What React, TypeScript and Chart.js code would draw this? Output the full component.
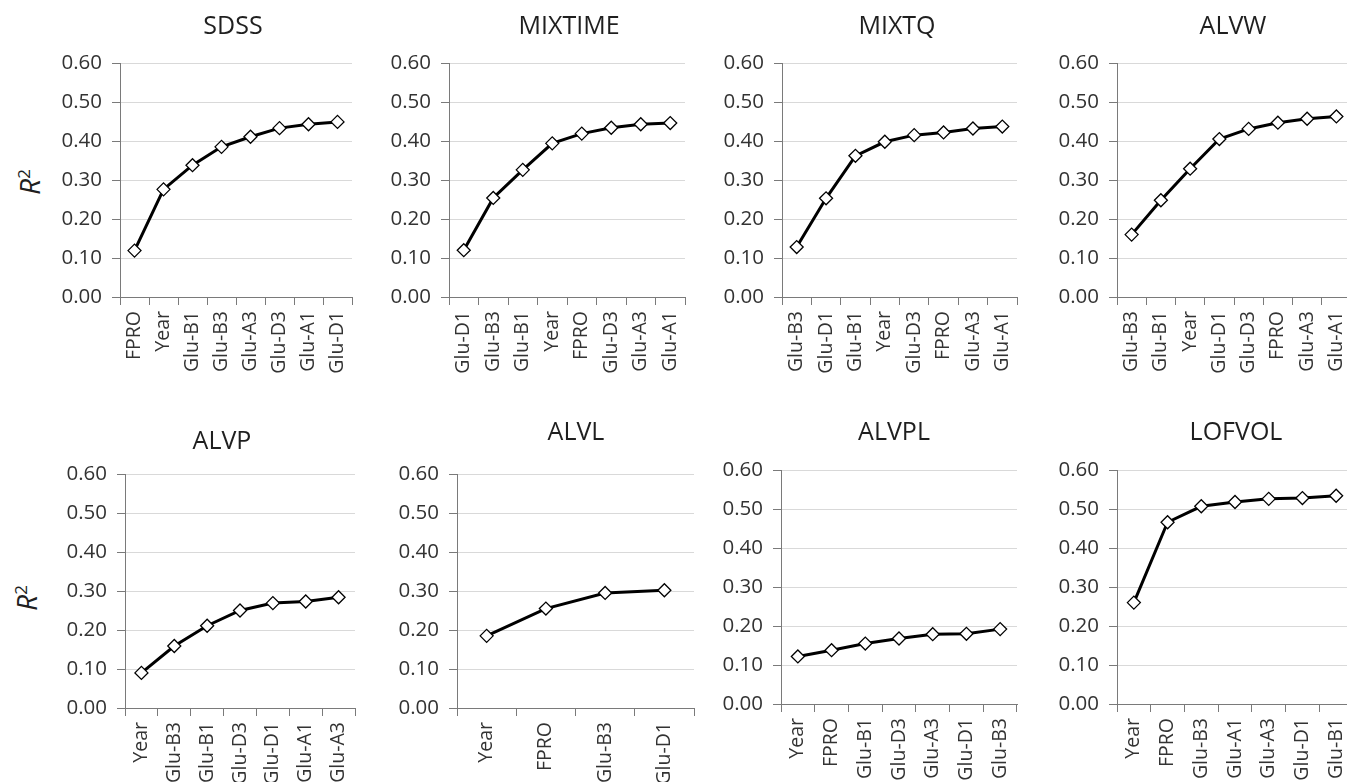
import React, { useEffect, useRef } from "react";
import { Chart, registerables } from "chart.js";

Chart.register(...registerables);

// ---------- data ----------
const sdssLabels = ["FPRO", "Year", "Glu-B1", "Glu-B3", "Glu-A3", "Glu-D3", "Glu-A1", "Glu-D1"];
const sdssValues = [0.119, 0.276, 0.338, 0.385, 0.411, 0.433, 0.443, 0.449];

const mixtimeLabels = ["Glu-D1", "Glu-B3", "Glu-B1", "Year", "FPRO", "Glu-D3", "Glu-A3", "Glu-A1"];
const mixtimeValues = [0.12, 0.254, 0.326, 0.394, 0.419, 0.434, 0.443, 0.446];

const mixtqLabels = ["Glu-B3", "Glu-D1", "Glu-B1", "Year", "Glu-D3", "FPRO", "Glu-A3", "Glu-A1"];
const mixtqValues = [0.128, 0.253, 0.362, 0.398, 0.415, 0.422, 0.432, 0.437];

const alvwLabels = ["Glu-B3", "Glu-B1", "Year", "Glu-D1", "Glu-D3", "FPRO", "Glu-A3", "Glu-A1"];
const alvwValues = [0.16, 0.248, 0.329, 0.405, 0.431, 0.447, 0.457, 0.463];

const alvpLabels = ["Year", "Glu-B3", "Glu-B1", "Glu-D3", "Glu-D1", "Glu-A1", "Glu-A3"];
const alvpValues = [0.09, 0.159, 0.211, 0.25, 0.269, 0.273, 0.284];

const alvlLabels = ["Year", "FPRO", "Glu-B3", "Glu-D1"];
const alvlValues = [0.185, 0.255, 0.295, 0.302];

const alvplLabels = ["Year", "FPRO", "Glu-B1", "Glu-D3", "Glu-A3", "Glu-D1", "Glu-B3"];
const alvplValues = [0.122, 0.138, 0.155, 0.168, 0.179, 0.18, 0.192];

const lofvolLabels = ["Year", "FPRO", "Glu-B3", "Glu-A1", "Glu-A3", "Glu-D1", "Glu-B1"];
const lofvolValues = [0.26, 0.466, 0.507, 0.518, 0.526, 0.528, 0.534];

const panelTitles = ["SDSS", "MIXTIME", "MIXTQ", "ALVW", "ALVP", "ALVL", "ALVPL", "LOFVOL"];
const yMin = 0;
const yMax = 0.6;
const yStep = 0.1;

// ---------- layout ----------
type Plot = { left: number; right: number; top: number; bottom: number; rowTop: number; tx: number; ty: number };
const plots: Plot[] = [
  { left: 120, right: 352, top: 63, bottom: 297, rowTop: 0, tx: 233, ty: 27 },
  { left: 449, right: 685, top: 63, bottom: 297, rowTop: 0, tx: 569, ty: 27 },
  { left: 782, right: 1017, top: 63, bottom: 297, rowTop: 0, tx: 897, ty: 27 },
  { left: 1117, right: 1351, top: 63, bottom: 297, rowTop: 0, tx: 1233, ty: 27 },
  { left: 125, right: 355, top: 474, bottom: 708, rowTop: 390, tx: 222, ty: 442 },
  { left: 457, right: 694, top: 474, bottom: 708, rowTop: 390, tx: 576, ty: 433 },
  { left: 781, right: 1017, top: 470, bottom: 704, rowTop: 390, tx: 894, ty: 433 },
  { left: 1117, right: 1353, top: 470, bottom: 704, rowTop: 390, tx: 1236, ty: 433 },
];

const FONT = "'Open Sans', 'Noto Sans', sans-serif";
const TXT = "#333333";
const TITLE_COLOR = "#1f1f1f";
const AXIS = "#7a7a7a";
const GRID = "#d9d9d9";

const panelTitlePlugin = {
  id: "panelTitle",
  afterDraw(chart: any, _args: any, opts: any) {
    const ctx = chart.ctx;
    ctx.save();
    ctx.font = `25px ${FONT}`;
    ctx.fillStyle = TITLE_COLOR;
    ctx.textAlign = "center";
    ctx.textBaseline = "middle";
    ctx.fillText(opts.text, opts.x, opts.y);
    ctx.restore();
  },
};

function Panel(props: { title: string; labels: string[]; values: number[]; plot: Plot }) {
  const { title, labels, values, plot } = props;
  const ref = useRef<HTMLCanvasElement>(null);
  const PADL = 100;
  const PADR = 20;
  const PADB = 100;
  const PADT = plot.top - plot.rowTop;
  const w = plot.right - plot.left + PADL + PADR;
  const h = plot.bottom - plot.top + PADT + PADB;
  const cLeft = plot.left - PADL;
  const cTop = plot.rowTop;

  useEffect(() => {
    const chart = new Chart(ref.current as HTMLCanvasElement, {
      type: "line",
      data: {
        labels,
        datasets: [
          {
            data: values,
            borderColor: "#000000",
            borderWidth: 3,
            tension: 0,
            pointStyle: "rectRot",
            pointRadius: 6.5,
            pointHoverRadius: 6.5,
            pointBackgroundColor: "#ffffff",
            pointBorderColor: "#000000",
            pointBorderWidth: 1.3,
            clip: false,
          } as any,
        ],
      },
      options: {
        animation: false,
        responsive: false,
        events: [],
        layout: { padding: { top: PADT, right: PADR, left: 0, bottom: 0 } },
        plugins: {
          legend: { display: false },
          tooltip: { enabled: false },
          title: { display: false },
          panelTitle: { text: title, x: plot.tx - cLeft, y: plot.ty - cTop },
        } as any,
        scales: {
          x: {
            type: "category",
            offset: true,
            grid: {
              display: true,
              offset: true,
              drawOnChartArea: false,
              drawTicks: true,
              tickLength: 8,
              color: AXIS,
              lineWidth: 1,
            },
            border: { display: true, color: AXIS, width: 1 },
            ticks: {
              autoSkip: false,
              minRotation: 90,
              maxRotation: 90,
              padding: 6,
              color: TXT,
              font: { family: FONT, size: 19.5 },
            },
            afterFit: (s: any) => {
              s.height = PADB;
            },
          },
          y: {
            min: yMin,
            max: yMax,
            ticks: {
              stepSize: yStep,
              padding: 10,
              color: TXT,
              font: { family: FONT, size: 20.5 },
              callback: (v: any) => Number(v).toFixed(2),
            },
            grid: {
              color: (c: any) => (c.tick && c.tick.value === 0 ? "rgba(0,0,0,0)" : GRID),
              tickColor: AXIS,
              tickLength: 8,
              lineWidth: 1,
            },
            border: { display: true, color: AXIS, width: 1 },
            afterFit: (s: any) => {
              s.width = PADL;
            },
          },
        } as any,
      },
      plugins: [panelTitlePlugin],
    });
    return () => chart.destroy();
  }, []);

  return (
    <canvas
      ref={ref}
      width={w}
      height={h}
      style={{ position: "absolute", left: cLeft, top: cTop, width: w, height: h }}
    />
  );
}

function RLabel(props: { x: number; y: number }) {
  return (
    <div
      style={{
        position: "absolute",
        left: props.x,
        top: props.y,
        transform: "translate(-50%, -50%) rotate(-90deg)",
        fontFamily: FONT,
        fontSize: 28,
        color: TITLE_COLOR,
        whiteSpace: "nowrap",
        lineHeight: 1,
      }}
    >
      <span style={{ fontStyle: "italic" }}>R</span>
      <sup style={{ fontSize: 17 }}>2</sup>
    </div>
  );
}

export default function App() {
  const labelSets = [sdssLabels, mixtimeLabels, mixtqLabels, alvwLabels, alvpLabels, alvlLabels, alvplLabels, lofvolLabels];
  const valueSets = [sdssValues, mixtimeValues, mixtqValues, alvwValues, alvpValues, alvlValues, alvplValues, lofvolValues];
  return (
    <div
      style={{
        position: "absolute",
        left: 0,
        top: 0,
        width: 1347,
        height: 782,
        overflow: "hidden",
        background: "#ffffff",
      }}
    >
      <RLabel x={29} y={182} />
      <RLabel x={26} y={598} />
      {panelTitles.map((t, i) => (
        <Panel key={t} title={t} labels={labelSets[i]} values={valueSets[i]} plot={plots[i]} />
      ))}
    </div>
  );
}
